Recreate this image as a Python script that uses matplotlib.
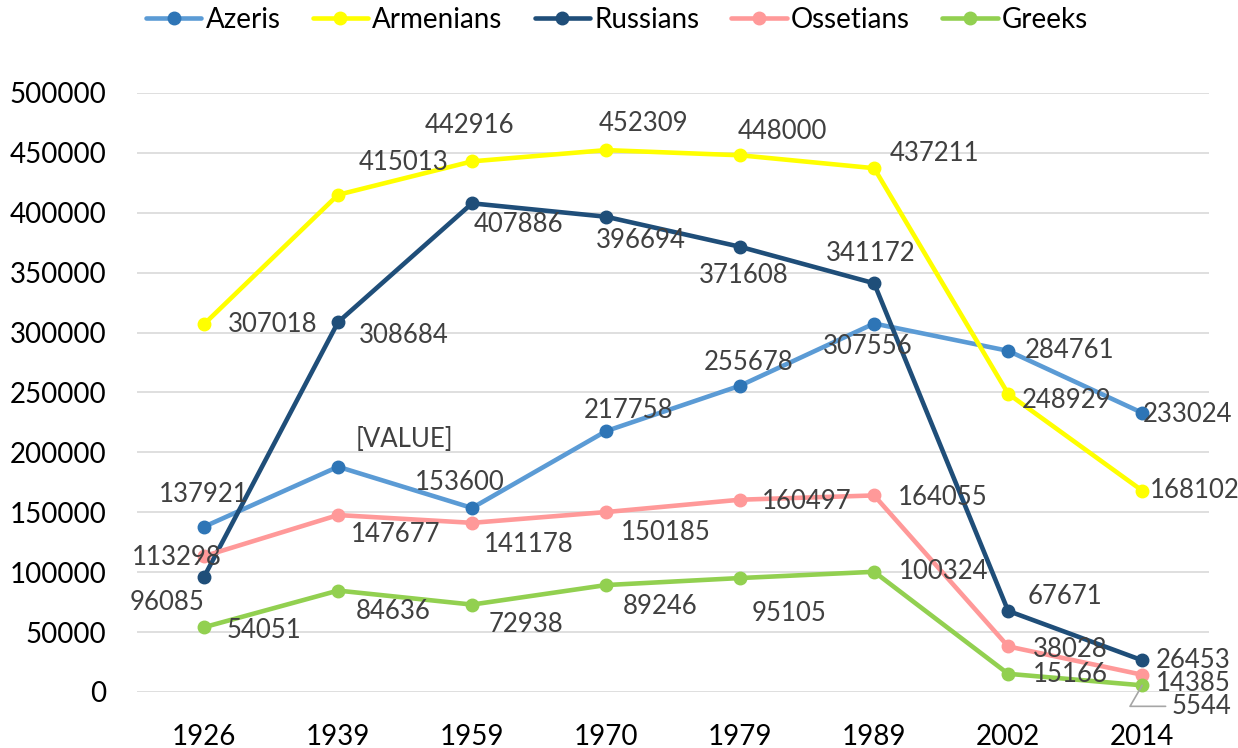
import matplotlib.pyplot as plt
import numpy as np

plt.rcParams['font.family'] = ['Lato', 'DejaVu Sans']

years = ['1926', '1939', '1959', '1970', '1979', '1989', '2002', '2014']
azeris = [137921, 188000, 153600, 217758, 255678, 307556, 284761, 233024]
armenians = [307018, 415013, 442916, 452309, 448000, 437211, 248929, 168102]
russians = [96085, 308684, 407886, 396694, 371608, 341172, 67671, 26453]
ossetians = [113298, 147677, 141178, 150185, 160497, 164055, 38028, 14385]
greeks = [54051, 84636, 72938, 89246, 95105, 100324, 15166, 5544]

azeri_labels = ['137921', '[VALUE]', '153600', '217758', '255678', '307556', '284761', '233024']

# label offsets in pixels (dx, dy, ha)
off_az = [(0, 32, 'center'), (18, 27, 'left'), (-12, 25, 'center'), (22, 21, 'center'),
          (9, 23, 'center'), (-6, -23, 'center'), (17, 0, 'left'), (1, -2, 'left')]
off_ar = [(24, 0, 'left'), (21, 32, 'left'), (-3, 36, 'center'), (37, 27, 'center'),
          (42, 24, 'center'), (16, 15, 'left'), (14, -7, 'left'), (8, 0, 'left')]
off_ru = [(-37, -26, 'center'), (21, -13, 'left'), (2, -21, 'left'), (35, -24, 'center'),
          (4, -29, 'center'), (-3, 30, 'center'), (19, 14, 'left'), (14, 0, 'left')]
off_os = [(-27, -1, 'center'), (13, -19, 'left'), (12, -22, 'left'), (15, -20, 'left'),
          (22, -2, 'left'), (24, -2, 'left'), (25, -3, 'left'), (14, -9, 'left')]
off_gr = [(23, -3, 'left'), (18, -21, 'left'), (17, -20, 'left'), (17, -21, 'left'),
          (12, -35, 'left'), (25, 0, 'left'), (25, -1, 'left'), (29, -21, 'left')]

series = [
    ('Azeris', azeris, '#5b9bd5', '#2e75b6', azeri_labels, off_az),
    ('Armenians', armenians, '#ffff00', '#ffff00', None, off_ar),
    ('Russians', russians, '#1f4e79', '#1f4e79', None, off_ru),
    ('Ossetians', ossetians, '#ff9999', '#ff9999', None, off_os),
    ('Greeks', greeks, '#92d050', '#92d050', None, off_gr),
]

fig = plt.figure(figsize=(12.38, 7.48), dpi=100)
ax = fig.add_axes([0.1107, 0.0749, 0.866, 0.8008])
x = np.arange(len(years))

for name, vals, col, mcol, labs, offs in series:
    ax.plot(x, vals, color=col, lw=3.3, marker='o', ms=9, mfc=mcol, mec=mcol,
            label=name, solid_capstyle='round', zorder=3)
    for i, v in enumerate(vals):
        txt = labs[i] if labs else str(v)
        dx, dy, ha = offs[i]
        if name == 'Greeks' and i == len(vals) - 1:
            # leader line for the last Greeks label
            ax.annotate(txt, (x[i], v), xytext=(dx, dy), textcoords='offset pixels',
                        ha=ha, va='center', fontsize=18.5, color='#404040', zorder=5,
                        arrowprops=dict(arrowstyle='-', color='#a6a6a6', lw=1.2,
                                        shrinkA=2, shrinkB=0,
                                        connectionstyle='angle,angleA=0,angleB=60,rad=0'))
        else:
            ax.annotate(txt, (x[i], v), xytext=(dx, dy), textcoords='offset pixels',
                        ha=ha, va='center', fontsize=18.5, color='#404040', zorder=5)

ax.set_xlim(-0.5, len(years) - 0.5)
ax.set_ylim(0, 500000)
ax.set_yticks(np.arange(0, 500001, 50000))
ax.set_xticks(x)
ax.set_xticklabels(years)
ax.grid(axis='y', color='#d9d9d9', lw=1.2, zorder=0)
for s in ax.spines.values():
    s.set_visible(False)
ax.tick_params(length=0, labelsize=20, colors='#000000')
ax.tick_params(axis='y', pad=22)
ax.tick_params(axis='x', pad=23)

ax.legend(loc='center', bbox_to_anchor=(617 / 1238, 0.973), bbox_transform=fig.transFigure,
          ncol=5, frameon=False, fontsize=20, handlelength=2.0, columnspacing=1.15,
          handletextpad=0.15)

plt.savefig('out.png', dpi=100)
